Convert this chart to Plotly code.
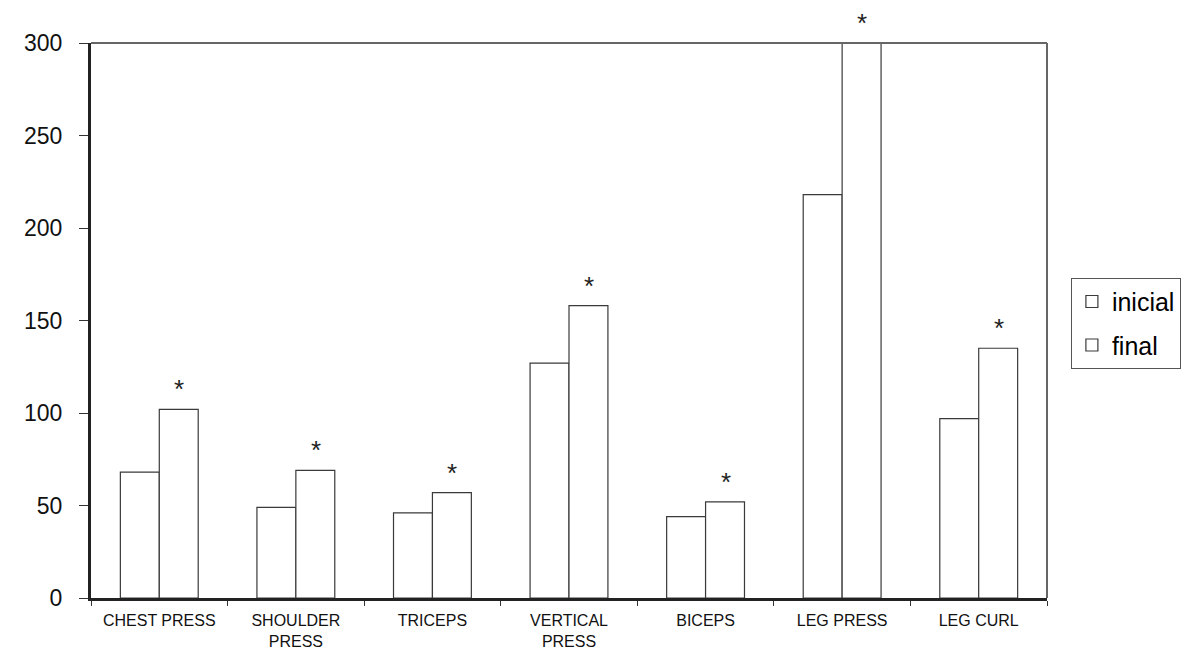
import plotly.graph_objects as go

categories = ["CHEST PRESS", "SHOULDER<br>PRESS", "TRICEPS", "VERTICAL<br>PRESS",
              "BICEPS", "LEG PRESS", "LEG CURL"]
inicial = [68, 49, 46, 127, 44, 218, 97]
final = [102, 69, 57, 158, 52, 300, 135]
significant = ["*", "*", "*", "*", "*", "*", "*"]

FONT = "Liberation Sans, Arial, sans-serif"

fig = go.Figure()
fig.add_trace(go.Bar(name="inicial", x=categories, y=inicial, legendgroup="a",
                     marker=dict(color="white", line=dict(color="#3a3a3a", width=1.2))))
fig.add_trace(go.Bar(name="final", x=categories, y=final, cliponaxis=False, legendgroup="b",
                     marker=dict(color="white", line=dict(color="#3a3a3a", width=1.2))))

for c, v, s in zip(categories, final, significant):
    fig.add_annotation(x=c, y=min(v, 300), text=s, showarrow=False, xshift=20,
                       yanchor="bottom", yshift=3,
                       font=dict(family=FONT, size=26, color="#222"))

fig.update_layout(
    width=1197, height=651,
    margin=dict(l=91, r=150, t=43, b=53, autoexpand=False),
    paper_bgcolor="white", plot_bgcolor="white",
    barmode="group", bargap=0.43, bargroupgap=0,
    font=dict(family=FONT, color="black"),
    legend=dict(x=1.025, y=0.577, xanchor="left", yanchor="top",
                bordercolor="#555", borderwidth=1, bgcolor="white",
                traceorder="grouped", tracegroupgap=8,
                font=dict(family=FONT, size=25)),
    showlegend=True,
)
fig.update_yaxes(range=[0, 300], tickvals=[0, 50, 100, 150, 200, 250, 300],
                 showgrid=False, zeroline=False, automargin=False,
                 showline=True, linecolor="#222", linewidth=3,
                 ticks="outside", ticklen=9, tickcolor="#333", tickwidth=1,
                 ticklabelstandoff=12,
                 tickfont=dict(family=FONT, size=23, color="#111"))
fig.update_xaxes(showgrid=False, showline=True, linecolor="#222", linewidth=3,
                 automargin=False,
                 ticks="outside", tickson="boundaries", ticklen=5,
                 tickcolor="#333", tickwidth=1, ticklabelstandoff=6,
                 tickfont=dict(family=FONT, size=16, color="#111"))

# thin top and right frame lines
fig.add_shape(type="line", xref="paper", yref="paper", x0=0, x1=1, y0=1, y1=1,
              line=dict(color="#666", width=2))
fig.add_shape(type="line", xref="paper", yref="paper", x0=1, x1=1, y0=0, y1=1,
              line=dict(color="#666", width=2))

fig.write_html("out.html")
